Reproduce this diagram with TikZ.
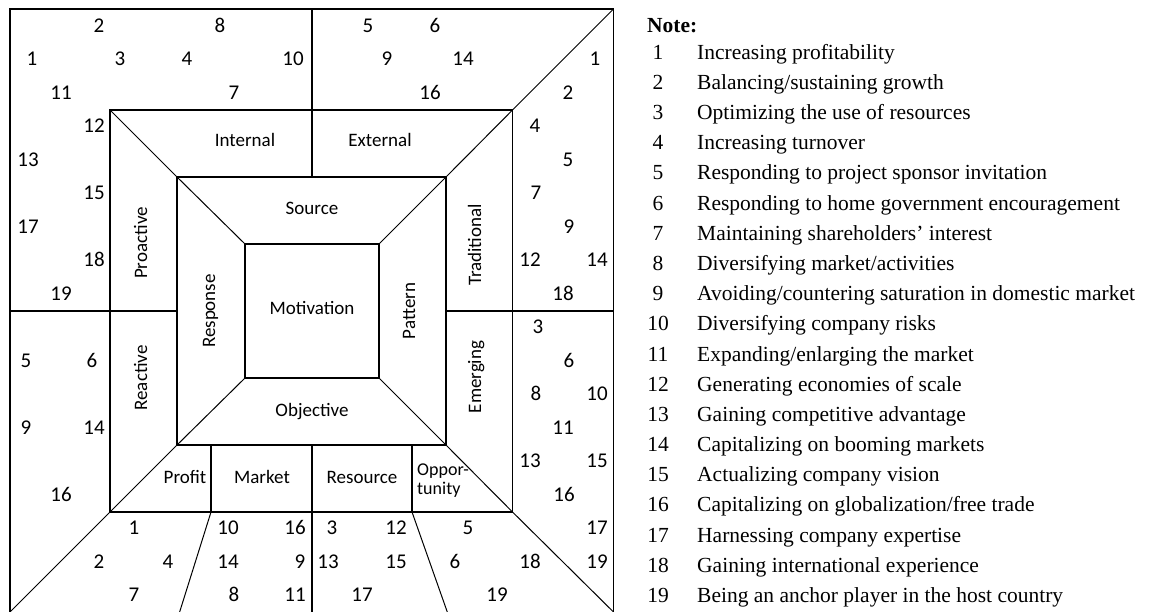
\documentclass[tikz,border=0pt]{standalone}
\usepackage{fontspec}
\setmainfont{Liberation Serif}
\newfontfamily\calfont{Carlito}
\begin{document}
\begin{tikzpicture}[x=1pt,y=-1pt,
  thickln/.style={line width=1.7pt},
  thinln/.style={line width=1pt},
  num/.style={font=\calfont\fontsize{21}{24}\selectfont, inner sep=0pt, text height=0.63em, text depth=0pt},
  lab/.style={font=\calfont\fontsize{19}{20}\selectfont, inner sep=0pt, text height=0.64em, text depth=0pt},
  smalllab/.style={font=\calfont\fontsize{18}{19}\selectfont, inner sep=0pt, text height=0.5em, text depth=0pt},
  notenum/.style={font=\fontsize{21.5}{24}\selectfont, inner sep=0pt, text height=0.66em, text depth=0pt},
  notetxt/.style={notenum, anchor=west}]
\useasboundingbox (0,0) rectangle (1167,611);
% corners
\coordinate (OTL) at (10,9);   \coordinate (OTR) at (613.5,9);
\coordinate (OBL) at (10,612); \coordinate (OBR) at (613.5,612);
\coordinate (MTL) at (110,110); \coordinate (MTR) at (512.5,110);
\coordinate (MBL) at (110,512); \coordinate (MBR) at (512.5,512);
\coordinate (ITL) at (177,177); \coordinate (ITR) at (446,177);
\coordinate (IBL) at (177,445); \coordinate (IBR) at (446,445);
\coordinate (CTL) at (245,244); \coordinate (CTR) at (379,244);
\coordinate (CBL) at (245,378); \coordinate (CBR) at (379,378);
% frames
\draw[thickln] (10,616) -- (OTL) -- (OTR) -- (613.5,616);
\draw[thickln] (MTL) rectangle (MBR);
\draw[thickln] (ITL) rectangle (IBR);
\draw[thickln] (CTL) rectangle (CBR);
% straight dividers
\draw[thickln] (312,9) -- (312,177);
\draw[thickln] (10,311) -- (177,311);
\draw[thickln] (446,311) -- (613.5,311);
\draw[thickln] (211,445) -- (211,512);
\draw[thickln] (312,445) -- (312,616);
\draw[thickln] (412,445) -- (412,512);
% diagonals
\draw[thinln] (OTR) -- (MTR) -- (ITR) -- (CTR);
\draw[thinln] (MTL) -- (ITL) -- (CTL);
\draw[thinln] (OBL) -- (MBL) -- (IBL) -- (CBL);
\draw[thinln] (OBR) -- (MBR) -- (IBR) -- (CBR);
\draw[thinln] (211,512) -- (179,614);
\draw[thinln] (412,512) -- (448,614);
% labels
\node[lab] (internal) at (245,143) {Internal};
\node[lab] (external) at (380,143) {External};
\node[lab] (source) at (312,211) {Source};
\node[lab] (motivation) at (312,311) {Motivation};
\node[lab] (objective) at (312,413) {Objective};
\node[lab,rotate=90] (response) at (212,311) {Response};
\node[lab,rotate=90] (pattern) at (412,311) {Pattern};
\node[lab,rotate=90] (proactive) at (144,243) {Proactive};
\node[lab,rotate=90] (reactive) at (144,378) {Reactive};
\node[lab,rotate=90] (traditional) at (478,245) {Traditional};
\node[lab,rotate=90] (emerging) at (478,377) {Emerging};
\node[lab] (profit) at (185,480) {Profit};
\node[lab] (market) at (262,480) {Market};
\node[lab] (resource) at (362,480) {Resource};
\node[smalllab,anchor=west] (oppor) at (417,473) {Oppor-};
\node[smalllab,anchor=west] (tunity) at (417,492) {tunity};
% numbers
\foreach \t/\x/\r [count=\i] in {
  2/99/0, 8/220/0, 1/32/1, 3/120/1, 4/187/1, 10/293/1, 11/61/2, 7/234/2,
  12/94/3, 13/28/4, 15/94/5, 17/28/6, 18/94/7, 19/61/8,
  5/368/0, 6/435/0, 9/387/1, 14/463/1, 16/430/2,
  1/595/1, 2/568/2, 4/535/3, 5/568/4, 7/536/5, 9/569/6, 12/530/7, 14/597/7, 18/563/8,
  3/538/9, 6/569/10, 8/536/11, 10/597/11, 11/563/12, 13/530/13, 15/597/13, 16/564/14, 17/597/15, 19/597/16,
  5/26/10, 6/92/10, 9/26/12, 14/94/12, 16/61/14,
  1/134/15, 2/99/16, 4/168/16, 7/134/17,
  10/228/15, 16/295/15, 14/228/16, 9/300/16, 8/234/17, 11/295/17,
  3/332/15, 12/396/15, 13/328/16, 15/396/16, 17/362/17,
  5/468/15, 6/455/16, 18/530/16, 19/497/17}
  \node[num] (n\i) at (\x,{29+33.5*\r}) {\t};
% notes
\node[notenum,anchor=west,font=\fontsize{21.5}{24}\selectfont\bfseries] (note) at (647,29) {Note:};
\foreach \i in {1,...,19} \node[notenum] (k\i) at (658,{56+30.17*(\i-1)}) {\i};
\node[notetxt] (t1) at (697,{56+30.17*0}) {Increasing profitability};
\node[notetxt] (t2) at (697,{56+30.17*1}) {Balancing/sustaining growth};
\node[notetxt] (t3) at (697,{56+30.17*2}) {Optimizing the use of resources};
\node[notetxt] (t4) at (697,{56+30.17*3}) {Increasing turnover};
\node[notetxt] (t5) at (697,{56+30.17*4}) {Responding to project sponsor invitation};
\node[notetxt] (t6) at (697,{56+30.17*5}) {Responding to home government encouragement};
\node[notetxt] (t7) at (697,{56+30.17*6}) {Maintaining shareholders’ interest};
\node[notetxt] (t8) at (697,{56+30.17*7}) {Diversifying market/activities};
\node[notetxt] (t9) at (697,{56+30.17*8}) {Avoiding/countering saturation in domestic market};
\node[notetxt] (t10) at (697,{56+30.17*9}) {Diversifying company risks};
\node[notetxt] (t11) at (697,{56+30.17*10}) {Expanding/enlarging the market};
\node[notetxt] (t12) at (697,{56+30.17*11}) {Generating economies of scale};
\node[notetxt] (t13) at (697,{56+30.17*12}) {Gaining competitive advantage};
\node[notetxt] (t14) at (697,{56+30.17*13}) {Capitalizing on booming markets};
\node[notetxt] (t15) at (697,{56+30.17*14}) {Actualizing company vision};
\node[notetxt] (t16) at (697,{56+30.17*15}) {Capitalizing on globalization/free trade};
\node[notetxt] (t17) at (697,{56+30.17*16}) {Harnessing company expertise};
\node[notetxt] (t18) at (697,{56+30.17*17}) {Gaining international experience};
\node[notetxt] (t19) at (697,{56+30.17*18}) {Being an anchor player in the host country};
\end{tikzpicture}
\end{document}
